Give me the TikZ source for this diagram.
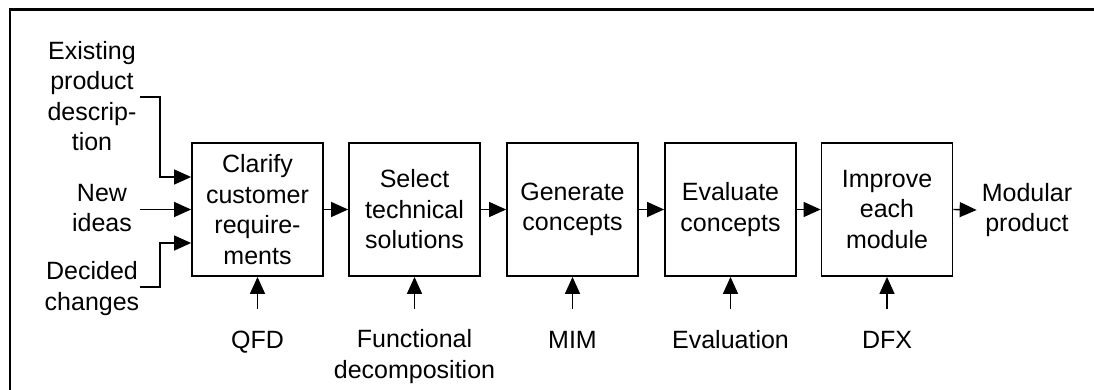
\documentclass[tikz,border=0pt]{standalone}
\usepackage{fontspec}
\setmainfont{Liberation Sans}
\usetikzlibrary{arrows.meta,calc}
\begin{document}
\begin{tikzpicture}[x=1pt,y=-1pt,
  every node/.style={font=\fontsize{25}{30.5}\selectfont},
  stepbox/.style={draw,line width=1.8pt,minimum width=131pt,minimum height=133pt,inner sep=0pt,align=center},
  lbl/.style={inner sep=0pt,align=center},
  arr/.style={line width=1.4pt,-{Triangle[length=17pt,width=15pt]}}]
  \useasboundingbox (0,0) rectangle (1094,390);
  % frame: top and left rules only
  \draw[line width=2.5pt] (1094,9.5) -- (10,9.5) -- (10,390);

  % process steps
  \node[stepbox] (b1) at (257.5,209.5) {Clarify\\customer\\require-\\ments};
  \node[stepbox] (b2) at (414.5,209.5) {Select\\technical\\solutions};
  \node[stepbox] (b3) at (572.5,209.5) {Generate\\concepts};
  \node[stepbox] (b4) at (730.5,209.5) {Evaluate\\concepts};
  \node[stepbox] (b5) at (887,209.5) {Improve\\each\\module};

  \foreach \a/\b in {b1/b2,b2/b3,b3/b4,b4/b5}
    \draw[arr] (\a.east) -- (\b.west);

  % inputs on the left
  \node[lbl] (ex) at (92,96) {Existing\\product\\descrip-\\tion};
  \node[lbl] (ni) at (102,208) {New\\ideas};
  \node[lbl] (dc) at (92,288.5) {Decided\\changes};
  \coordinate (s1) at (140,97);
  \coordinate (s2) at (140,209.5);
  \coordinate (s3) at (140,287);
  \coordinate (in1) at ($(b1.west)+(0,-32.5)$);
  \coordinate (in3) at ($(b1.west)+(0,33.5)$);
  \draw[arr] (s1) -| ($(in1)+(-31,0)$) -- (in1);
  \draw[arr] (s2) -- (b1.west);
  \draw[arr] (s3) -| ($(in3)+(-31,0)$) -- (in3);

  % methods below each step
  \node[lbl,anchor=base] (m1) at (257.5,348) {QFD};
  \node[lbl] (m2) at (414.5,356.5) {Functional\\decomposition};
  \node[lbl,anchor=base] (m3) at (572.5,348) {MIM};
  \node[lbl,anchor=base] (m4) at (730.5,348) {Evaluation};
  \node[lbl,anchor=base] (m5) at (887,348) {DFX};
  \foreach \i in {1,...,5} {
    \coordinate (u\i) at ($(b\i.south)+(0,32)$);
    \draw[arr] (u\i) -- (b\i.south);
  }

  % result
  \node[lbl,inner xsep=5pt] (out) at (1027,210) {Modular\\product};
  \draw[arr] (b5.east) -- (out.west);
\end{tikzpicture}
\end{document}
